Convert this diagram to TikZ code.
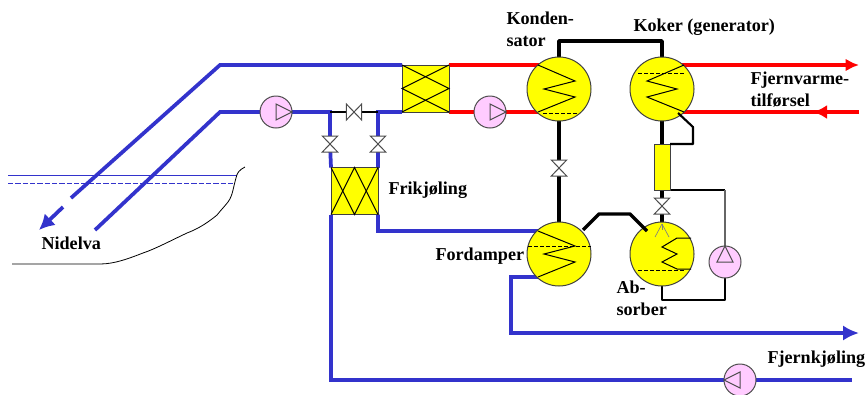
\documentclass[tikz,border=0pt]{standalone}
\usepackage{fontspec}
\setmainfont{Liberation Serif}
\usetikzlibrary{arrows.meta,backgrounds}
\definecolor{pipeblue}{RGB}{51,51,204}
\definecolor{pipered}{RGB}{255,0,0}
\definecolor{pumppink}{RGB}{255,204,255}
\definecolor{unityellow}{RGB}{255,255,0}
\tikzset{every picture/.style={line width=0.75pt}}
\tikzset{
  bluepipe/.style={draw=pipeblue,line width=2.8pt},
  redpipe/.style={draw=pipered,line width=2.8pt},
  blackpipe/.style={draw=black,line width=2.6pt},
  thinpipe/.style={draw=black,line width=1.6pt,line join=round},
  pumpnode/.style={circle,draw=black!70,fill=pumppink,minimum size=24pt,inner sep=0pt,outer sep=0pt},
  pumpmark/.style={draw=black!70,line width=0.75pt},
  valvenode/.style={inner sep=0pt,outer sep=0pt,minimum width=11.5pt,minimum height=12pt},
  valvemark/.style={draw=black!70,fill=white,line width=0.75pt},
  hxnode/.style={draw=black!75,fill=unityellow,inner sep=0pt,outer sep=0pt,minimum size=35.25pt},
  tanknode/.style={circle,draw=black!75,fill=unityellow,minimum size=48pt,inner sep=0pt,outer sep=0pt},
  slimnode/.style={draw=black!75,fill=unityellow,inner sep=0pt,outer sep=0pt,minimum width=12pt,minimum height=34.5pt},
  coil/.style={draw=black,line width=0.75pt},
  level/.style={draw=black,line width=0.75pt,dash pattern=on 3pt off 1.5pt},
  spray/.style={draw=black!50,line width=0.5pt},
  labeltext/.style={anchor=north west,inner sep=0.75pt,font=\fontsize{13.6}{17}\selectfont\bfseries,align=left}
}

\begin{document}
\begin{tikzpicture}[x=0.75pt,y=0.75pt,yscale=-1,xscale=1]
\useasboundingbox (0,0) rectangle (866,394);

%Nidelva water surface and bank
\draw [pipeblue,line width=0.75pt]  (8,175) -- (237,175) ;
\draw [pipeblue,line width=0.75pt,dash pattern=on 4pt off 1.5pt]  (8,183) -- (234,183) ;
\draw [black,line width=0.6pt]  (245,167) .. controls (239,170) and (237,173) .. (236,178) .. controls (233,188) and (233,195) .. (228,202) .. controls (224,207) and (221,210) .. (217,215) .. controls (205,225) and (195,230) .. (187,233) .. controls (170,241) and (155,249) .. (143,253) .. controls (130,258) and (115,264) .. (100,264) -- (12,264) ;

%Junction coordinates
\coordinate (kneetop) at (220,65);
\coordinate (kneelow) at (220,112);
\coordinate (intakeend) at (95,230);
\coordinate (outfall) at (71,198);
\coordinate (arrowstart) at (63,207);
\coordinate (arrowtip) at (39,230);
\coordinate (teeleft) at (330,112);
\coordinate (teeright) at (378,112);
\coordinate (coolout) at (511,333);
\coordinate (coolend) at (859,333);
\coordinate (coldend) at (852,380);
\coordinate (heatend) at (859,65);
\coordinate (heatback) at (859,112);
\coordinate (heatarrow) at (813,112);
\coordinate (kokerdrain) at (678,113);
\coordinate (fordout) at (583,230);
\coordinate (absin) at (647,231);

% Units
\node [hxnode] (hxriver) at (425.5,88.5) {};
\node [hxnode] (hxfree) at (354.5,191) {};
\node [tanknode] (kondensator) at (559,89) {};
\node [tanknode] (koker) at (662,89) {};
\node [tanknode] (fordamper) at (559,254) {};
\node [tanknode] (absorber) at (662,254) {};
\node [slimnode] (exchanger) at (662,167) {};

% Pumps
\node [pumpnode] (pumpriver) at (276,112) {};
\node [pumpnode] (pumpheat) at (490,112) {};
\node [pumpnode] (pumpabs) at (725,262) {};
\node [pumpnode] (pumpcold) at (740,380) {};

% Valves
\node [valvenode] (valvetop) at (354,112) {};
\node [valvenode] (valveleft) at (330,144) {};
\node [valvenode] (valveright) at (378,144) {};
\node [valvenode] (valvemid) at (559,168) {};
\node [valvenode] (valveabs) at (662,206) {};

\begin{scope}[on background layer]
% Blue pipes
\draw [bluepipe]  (hxriver.north west) -- (kneetop) -- (outfall) ;
\draw [bluepipe,-{Latex[length=11.5pt,width=12pt]}]  (arrowstart) -- (arrowtip) ;
\draw [bluepipe]  (intakeend) -- (kneelow) -- (pumpriver) ;
\draw [bluepipe]  (pumpriver) -- (teeleft) -- (valveleft) ;
\draw [bluepipe]  (valveleft) -- (hxfree.north west) ;
\draw [bluepipe]  (hxriver.south west) -- (teeright) -- (valveright) ;
\draw [bluepipe]  (valveright) -- (hxfree.north east) ;
\draw [bluepipe]  (hxfree.south west) |- (pumpcold) ;
\draw [bluepipe]  (pumpcold) -- (coldend) ;
\draw [bluepipe]  (hxfree.south east) |- (538,231) -- (fordamper) ;
\draw [bluepipe,-{Latex[length=12pt,width=11.5pt]}]  (fordamper) -- (538,277) -| (coolout) -- (coolend) ;

% Red pipes
\draw [redpipe]  (hxriver.north east) -- (hxriver.north east -| kondensator) ;
\draw [redpipe]  (hxriver.south east) -- (pumpheat) ;
\draw [redpipe]  (pumpheat) -- (pumpheat -| kondensator) ;
\draw [redpipe,-{Latex[length=10pt,width=9.5pt]}]  (heatend -| koker) -- (heatend) ;
\draw [redpipe]  (heatback -| koker) -- (heatback) ;
\draw [redpipe,-{Latex[length=10.5pt,width=10.5pt]}]  (heatback) -- (heatarrow) ;

% Black pipes
\draw [thinpipe]  (teeleft) -- (valvetop) -- (teeright) ;
\draw [blackpipe,line join=round]  (kondensator) |- (559,41) -| (koker) ;
\draw [blackpipe]  (kondensator) -- (valvemid) -- (fordamper) ;
\draw [blackpipe]  (koker) -- (exchanger) -- (valveabs) -- (absorber) ;
\draw [thinpipe]  (exchanger.south east) -- (725,190) ;
\draw [draw=black!60,line width=0.9pt]  (725,190) -- (pumpabs) ;
\draw [thinpipe,line width=2pt]  (pumpabs) |- (662,300) -- (absorber) ;
\end{scope}

% Pipes lying over the tanks
\draw [thinpipe]  (kokerdrain) -- (693,127) -- (693,144) -- (exchanger.north east) ;
\draw [blackpipe,line join=round]  (fordout) -- (599,214) -- (630,214) -- (absin) ;

% Pump and valve marks
\foreach \p/\q in {pumpriver/0,pumpheat/0,pumpabs/-90,pumpcold/180} {
  \draw [pumpmark,shift={(\p.center)},rotate=\q]  (0,-8) -- (16,0) -- (0,8) -- cycle ;
}
\foreach \v in {valveleft,valveright,valvemid,valveabs} {
  \draw [valvemark]  (\v.north west) -- (\v.south east) -- (\v.south west) -- (\v.north east) -- cycle ;
}
\draw [valvemark]  (valvetop.north west) -- (valvetop.south east) -- (valvetop.north east) -- (valvetop.south west) -- cycle ;

% Heat exchanger crosses
\draw [coil]  (hxriver.north west) -- (hxriver.east) -- (hxriver.south west) ;
\draw [coil]  (hxriver.north east) -- (hxriver.west) -- (hxriver.south east) ;
\draw [coil]  (hxfree.north west) -- (hxfree.south) -- (hxfree.north east) ;
\draw [coil]  (hxfree.south west) -- (hxfree.north) -- (hxfree.south east) ;

% Coils
\draw [coil]  (538,65) -- (575,81) -- (544,89) -- (575,97) -- (538,112) ;
\draw [coil]  (684,65) -- (647,81) -- (677,89) -- (647,97) -- (684,112) ;
\draw [coil]  (538,231) -- (575,246) -- (544,254) -- (575,262) -- (538,277) ;
\draw [coil]  (691,238) -- (677,238) -- (662,247) -- (677,254) -- (662,262) -- (677,269) -- (691,269) ;
\draw [level]  (543,113) -- (577,113) ;
\draw [level]  (638,73) -- (685,73) ;
\draw [level]  (528,246) -- (591,246) ;
\draw [level]  (638,270) -- (686,270) ;
\draw [spray]  (662,224) -- (655,237) ;
\draw [spray]  (662,224) -- (662,230) ;
\draw [spray]  (662,224) -- (669,237) ;

% Text Node
\node [labeltext] (lblkondensator) at (505,10) {Konden-\\sator};
% Text Node
\node [labeltext] (lblkoker) at (632,17) {Koker (generator)};
% Text Node
\node [labeltext] (lblfjernvarme) at (749,70) {Fjernvarme-\\tilførsel};
% Text Node
\node [labeltext] (lblfrikjoling) at (387,180) {Frikjøling};
% Text Node
\node [labeltext] (lblfordamper) at (434,246) {Fordamper};
% Text Node
\node [labeltext] (lblabsorber) at (615,279) {Ab-\\sorber};
% Text Node
\node [labeltext] (lblnidelva) at (40,235) {Nidelva};
% Text Node
\node [labeltext] (lblfjernkjoling) at (766,349) {Fjernkjøling};

\end{tikzpicture}
\end{document}
